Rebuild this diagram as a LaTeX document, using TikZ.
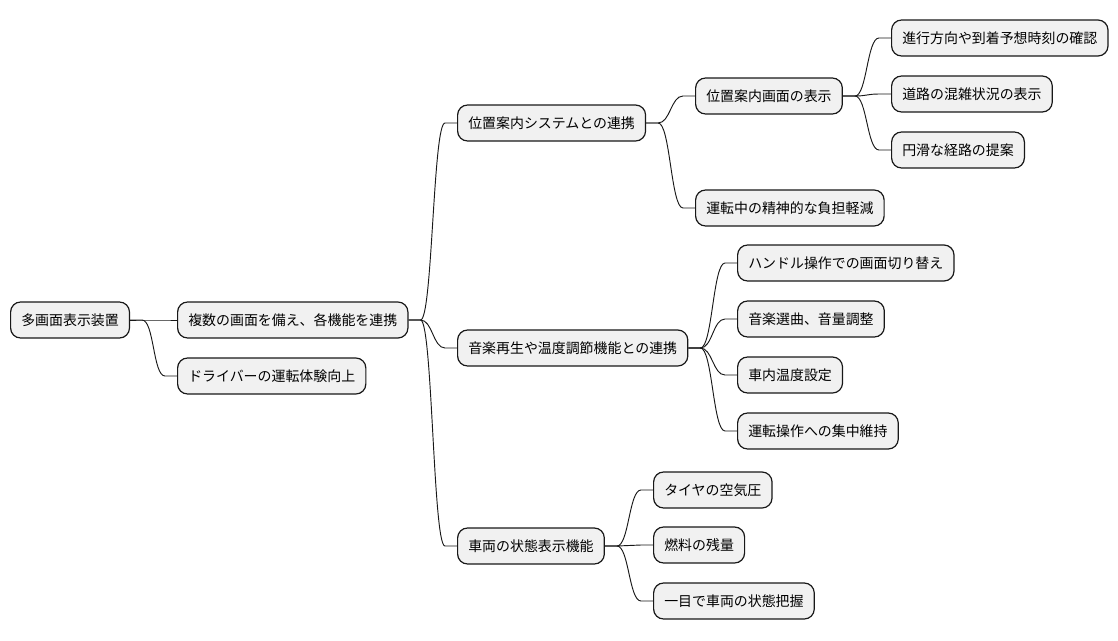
\documentclass[tikz,border=0pt]{standalone}
\usepackage{fontspec}
\setmainfont{Noto Sans CJK JP}
\usetikzlibrary{positioning}
\definecolor{boxfill}{HTML}{F1F1F1}
\definecolor{boxline}{HTML}{181818}

\begin{document}
\begin{tikzpicture}[
    x=0.75pt, y=-0.75pt,
    topic/.style={draw=boxline, fill=boxfill, line width=0.9pt, rounded corners=7.5pt,
        minimum height=27pt, inner xsep=8pt, anchor=west, font=\fontsize{10.45}{12}\selectfont},
    link/.style={draw=boxline, line width=0.7pt}
]
    \useasboundingbox (0,0) rectangle (1118,640);

    % Root and first level
    \node [topic] (root)   at (10,320)  {多画面表示装置};
    \node [topic] (multi)  at (177,320) {複数の画面を備え、各機能を連携};
    \node [topic] (driver) at (177,376) {ドライバーの運転体験向上};

    % Second level
    \node [topic] (navi)   at (457,123) {位置案内システムとの連携};
    \node [topic] (music)  at (457,348) {音楽再生や温度調節機能との連携};
    \node [topic] (status) at (457,546) {車両の状態表示機能};

    % Navigation branch
    \node [topic] (naviscr) at (695,96)  {位置案内画面の表示};
    \node [topic] (stress)  at (695,208) {運転中の精神的な負担軽減};
    \node [topic] (eta)     at (891,38)  {進行方向や到着予想時刻の確認};
    \node [topic] (traffic) at (891,94)  {道路の混雑状況の表示};
    \node [topic] (route)   at (891,150) {円滑な経路の提案};

    % Music / temperature branch
    \node [topic] (wheel)  at (737,263) {ハンドル操作での画面切り替え};
    \node [topic] (volume) at (737,319) {音楽選曲、音量調整};
    \node [topic] (temp)   at (737,375) {車内温度設定};
    \node [topic] (focus)  at (737,431) {運転操作への集中維持};

    % Vehicle status branch
    \node [topic] (tire)   at (653,490) {タイヤの空気圧};
    \node [topic] (fuel)   at (653,545) {燃料の残量};
    \node [topic] (glance) at (653,601) {一目で車両の状態把握};

    % Connectors
    \foreach \a/\b in {root/multi, root/driver, multi/navi, multi/music, multi/status,
        navi/naviscr, navi/stress, naviscr/eta, naviscr/traffic, naviscr/route,
        music/wheel, music/volume, music/temp, music/focus,
        status/tire, status/fuel, status/glance} {
        \draw [link] (\a.east) -- ++(12,0) .. controls +(12,0) and +(-12,0) .. ([xshift=-9pt]\b.west) -- (\b.west);
    }
\end{tikzpicture}
\end{document}
